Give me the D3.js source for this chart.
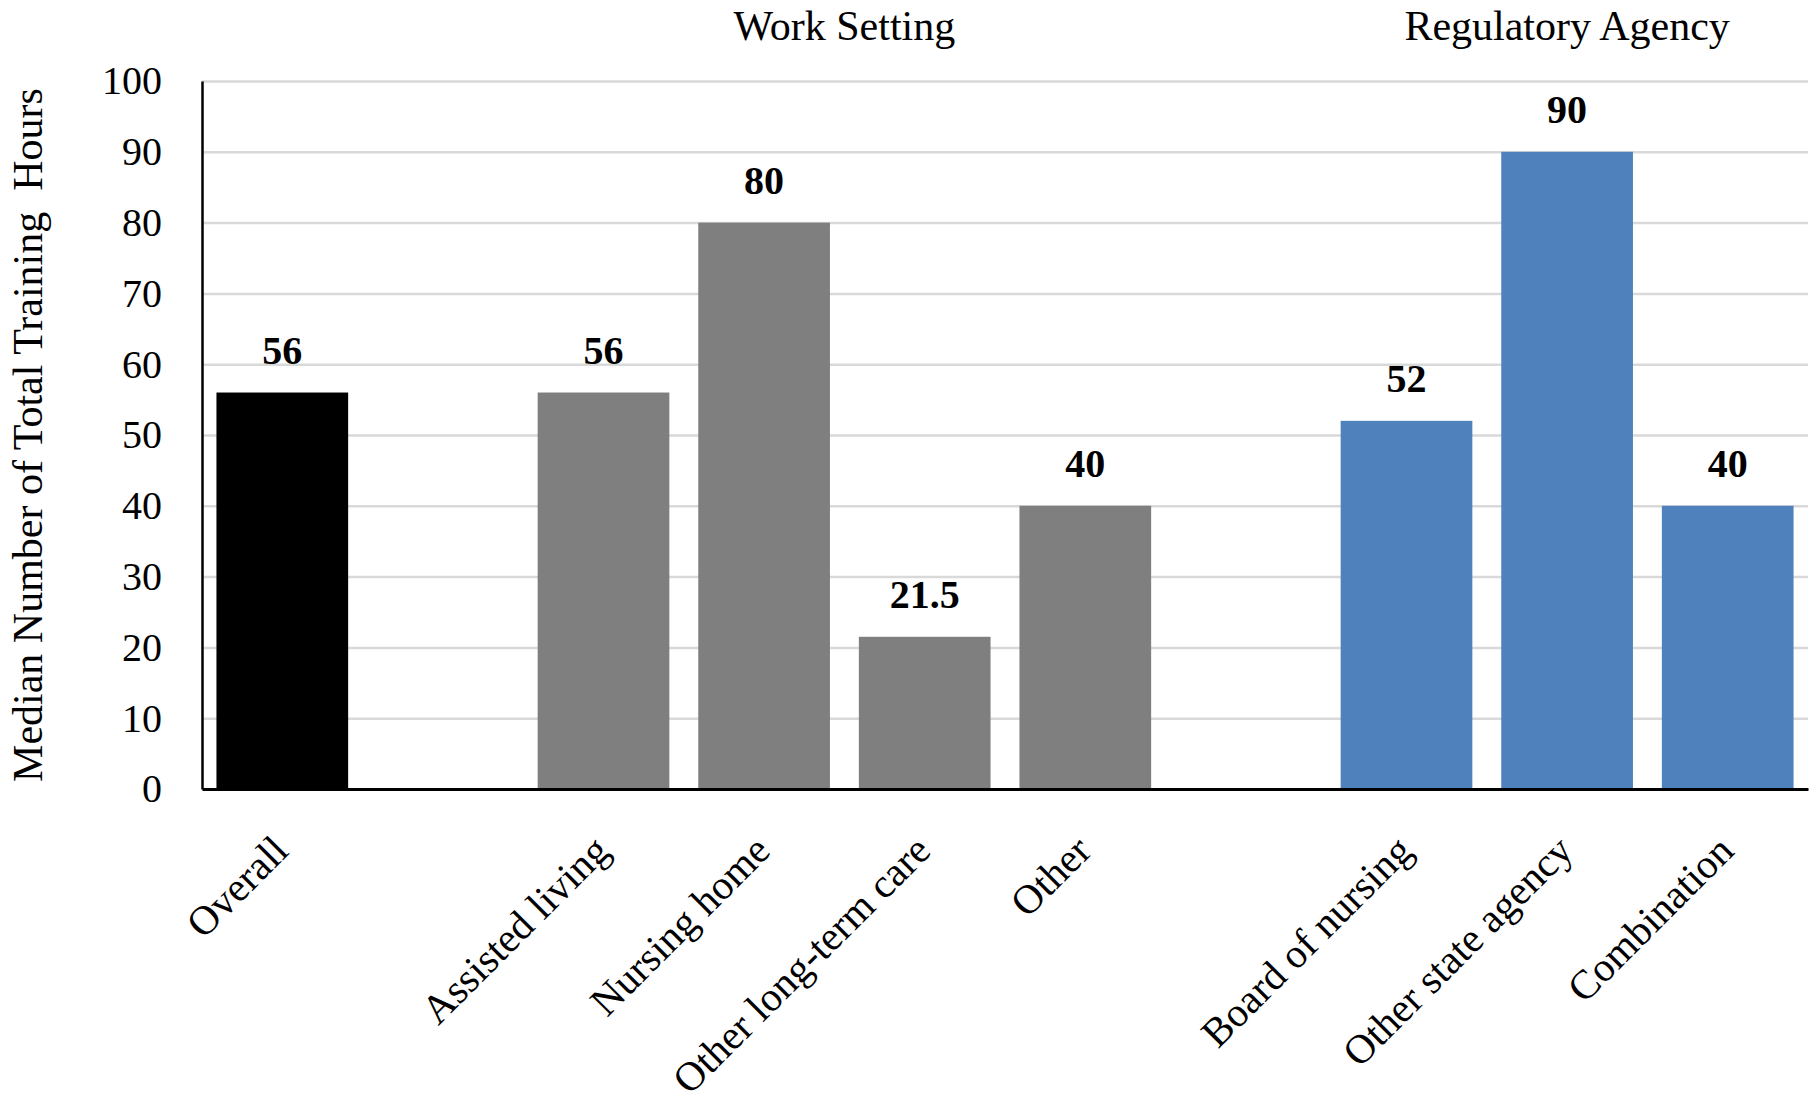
<!DOCTYPE html>
<html>
<head>
<meta charset="utf-8">
<script src="https://cdn.jsdelivr.net/npm/d3@7"></script>
<style>
  body { margin: 0; background: #fff; }
  svg { font-family: "Liberation Serif", "Times New Roman", serif; }
</style>
</head>
<body>
<div id="chart"></div>
<script>
// data
const categories = ["Overall", "Assisted living", "Nursing home", "Other long-term care", "Other",
                    "Board of nursing", "Other state agency", "Combination"];
const values = [56, 56, 80, 21.5, 40, 52, 90, 40];
const groupOf = ["overall", "work", "work", "work", "work", "agency", "agency", "agency"];
const groupTitles = [{key: "work", title: "Work Setting"}, {key: "agency", title: "Regulatory Agency"}];
const groupColors = {overall: "#000000", work: "#7f7f7f", agency: "#4f81bd"};
const yTicks = [0, 10, 20, 30, 40, 50, 60, 70, 80, 90, 100];
const yTitle = "Median Number of Total Training  Hours";

const width = 1816, height = 1104;
const margin = {top: 81, right: 8, bottom: 315, left: 202};
const innerW = width - margin.left - margin.right;
const innerH = height - margin.top - margin.bottom;

const data = categories.map((c, i) => ({name: c, value: values[i], group: groupOf[i]}));

// one empty slot between groups
const slots = [];
data.forEach((d, i) => {
  if (i > 0 && d.group !== data[i - 1].group) slots.push("gap" + i);
  slots.push(d.name);
});

const svg = d3.select("#chart").append("svg")
  .attr("width", width).attr("height", height);
const g = svg.append("g").attr("transform", `translate(${margin.left},${margin.top})`);

const x = d3.scaleBand().domain(slots).range([0, innerW]).paddingInner(0.18).paddingOuter(0.09);
const y = d3.scaleLinear().domain([0, 100]).range([innerH, 0]);

// gridlines
g.append("g")
  .call(d3.axisLeft(y).tickValues(yTicks.slice(1)).tickSize(-innerW).tickFormat(""))
  .call(s => s.select(".domain").remove())
  .call(s => s.selectAll("line").attr("stroke", "#d9d9d9").attr("stroke-width", 2.5));

// y axis
g.append("g")
  .call(d3.axisLeft(y).tickValues(yTicks).tickSize(0).tickPadding(40))
  .call(s => s.select(".domain").attr("stroke", "#000").attr("stroke-width", 2.5))
  .call(s => s.selectAll("text").attr("font-size", 40).attr("font-family", "Liberation Serif").attr("fill", "#000"));

// bars
g.selectAll("rect.bar").data(data).enter().append("rect")
  .attr("class", "bar")
  .attr("x", d => x(d.name))
  .attr("width", x.bandwidth())
  .attr("y", d => y(d.value))
  .attr("height", d => innerH - y(d.value))
  .attr("fill", d => groupColors[d.group]);

// value labels
g.selectAll("text.val").data(data).enter().append("text")
  .attr("class", "val")
  .attr("x", d => x(d.name) + x.bandwidth() / 2)
  .attr("y", d => y(d.value) - 29)
  .attr("text-anchor", "middle")
  .attr("font-size", 40)
  .attr("font-weight", "bold")
  .text(d => d.value);

// x axis
const xAxis = g.append("g").attr("transform", `translate(0,${innerH})`)
  .call(d3.axisBottom(x).tickSize(0).tickFormat(d => d.startsWith("gap") ? "" : d));
xAxis.select(".domain").attr("stroke", "#000").attr("stroke-width", 3);
xAxis.selectAll("text")
  .attr("font-size", 41).attr("font-family", "Liberation Serif").attr("fill", "#000")
  .attr("text-anchor", "end")
  .attr("dy", null).attr("y", null)
  .attr("transform", "translate(8,64) rotate(-45)");

// group titles
groupTitles.forEach(gt => {
  const names = data.filter(d => d.group === gt.key).map(d => d.name);
  const x0 = x(names[0]), x1 = x(names[names.length - 1]) + x.bandwidth();
  g.append("text")
    .attr("x", (x0 + x1) / 2)
    .attr("y", 40 - margin.top)
    .attr("text-anchor", "middle")
    .attr("font-size", 42)
    .text(gt.title);
});

// y axis title
svg.append("text")
  .attr("transform", `translate(42,${margin.top + innerH / 2}) rotate(-90)`)
  .attr("text-anchor", "middle")
  .attr("font-size", 42)
  .style("white-space", "pre")
  .text(yTitle);
</script>
</body>
</html>
